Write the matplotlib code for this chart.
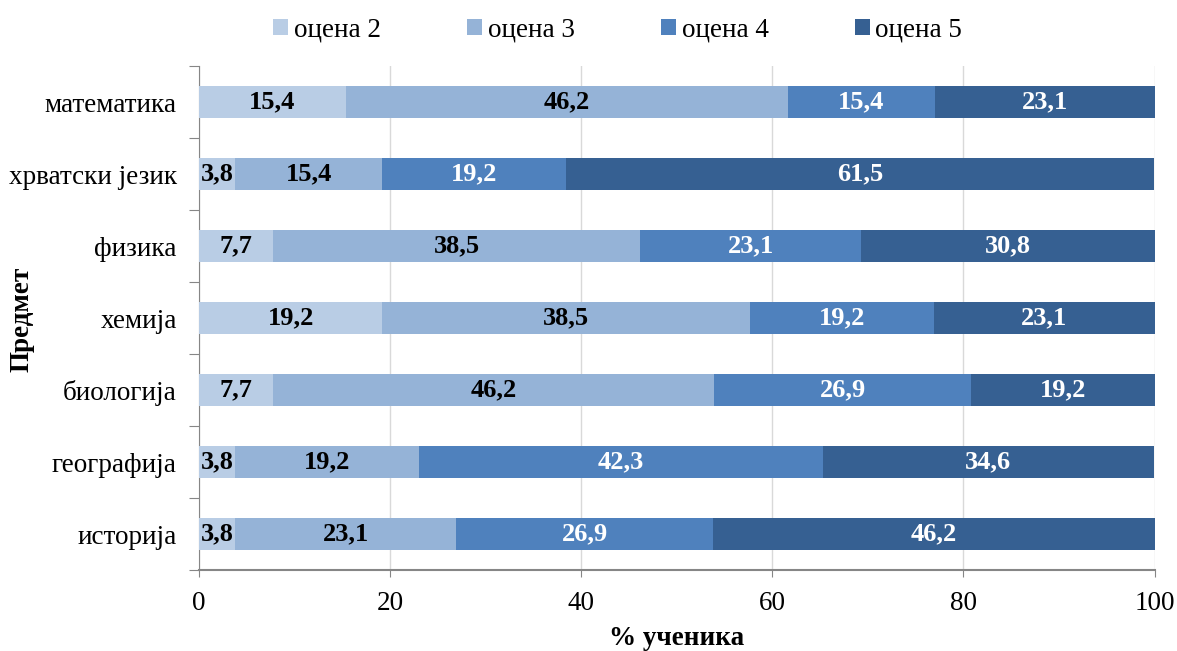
import matplotlib.pyplot as plt
import numpy as np

plt.rcParams['font.family'] = ['Liberation Serif', 'DejaVu Serif']

subjects = ["математика", "хрватски језик", "физика", "хемија", "биологија", "географија", "историја"]
grade_names = ["оцена 2", "оцена 3", "оцена 4", "оцена 5"]
grade2 = [15.4, 3.8, 7.7, 19.2, 7.7, 3.8, 3.8]
grade3 = [46.2, 15.4, 38.5, 38.5, 46.2, 19.2, 23.1]
grade4 = [15.4, 19.2, 23.1, 19.2, 26.9, 42.3, 26.9]
grade5 = [23.1, 61.5, 30.8, 23.1, 19.2, 34.6, 46.2]

colors = ["#B9CDE5", "#95B3D7", "#4F81BD", "#366092"]
text_colors = ["black", "black", "white", "white"]

fig = plt.figure(figsize=(11.77, 6.51), dpi=100)
ax = fig.add_axes([0.169, 0.1244, 0.812, 0.774])

y = np.arange(len(subjects))[::-1]
left = np.zeros(len(subjects))
for name, vals, col, tcol in zip(grade_names, [grade2, grade3, grade4, grade5], colors, text_colors):
    vals = np.array(vals)
    bars = ax.barh(y, vals, left=left, height=0.45, color=col, label=name, zorder=3)
    labels = [f"{v:.1f}".replace(".", ",") for v in vals]
    ax.bar_label(bars, labels=labels, label_type="center", color=tcol,
                 fontsize=19, fontweight="bold")
    left += vals

ax.set_xlim(0, 100)
ax.set_ylim(-0.5, len(subjects) - 0.5)
ax.set_xticks(range(0, 101, 20))
ax.tick_params(axis="x", labelsize=19.5, length=5, color="#868686", pad=10)
ax.xaxis.grid(True, color="#D9D9D9", linewidth=1, zorder=0)

# category boundaries as major ticks, names on minor ticks
ax.set_yticks(np.arange(-0.5, len(subjects), 1))
ax.set_yticklabels([])
ax.tick_params(axis="y", which="major", length=7, color="#868686")
ax.set_yticks(y, minor=True)
ax.set_yticklabels(subjects, minor=True)
ax.tick_params(axis="y", which="minor", length=0, labelsize=19.5, pad=16)

for side in ["top", "right"]:
    ax.spines[side].set_visible(False)
for side in ["left", "bottom"]:
    ax.spines[side].set_color("#868686")
ax.spines["bottom"].set_linewidth(1.5)

ax.set_xlabel("% ученика", fontsize=19.5, fontweight="bold", labelpad=7)
fig.text(0.019, 0.51, "Предмет", rotation=90, fontsize=19.5, fontweight="bold",
         ha="center", va="center")

fig.legend(loc="upper center", bbox_to_anchor=(0.525, 1.01), ncol=4, frameon=False,
           fontsize=19.5, handlelength=0.55, handleheight=0.55, handletextpad=0.2,
           columnspacing=3.2)

fig.savefig("out.png", dpi=100)
